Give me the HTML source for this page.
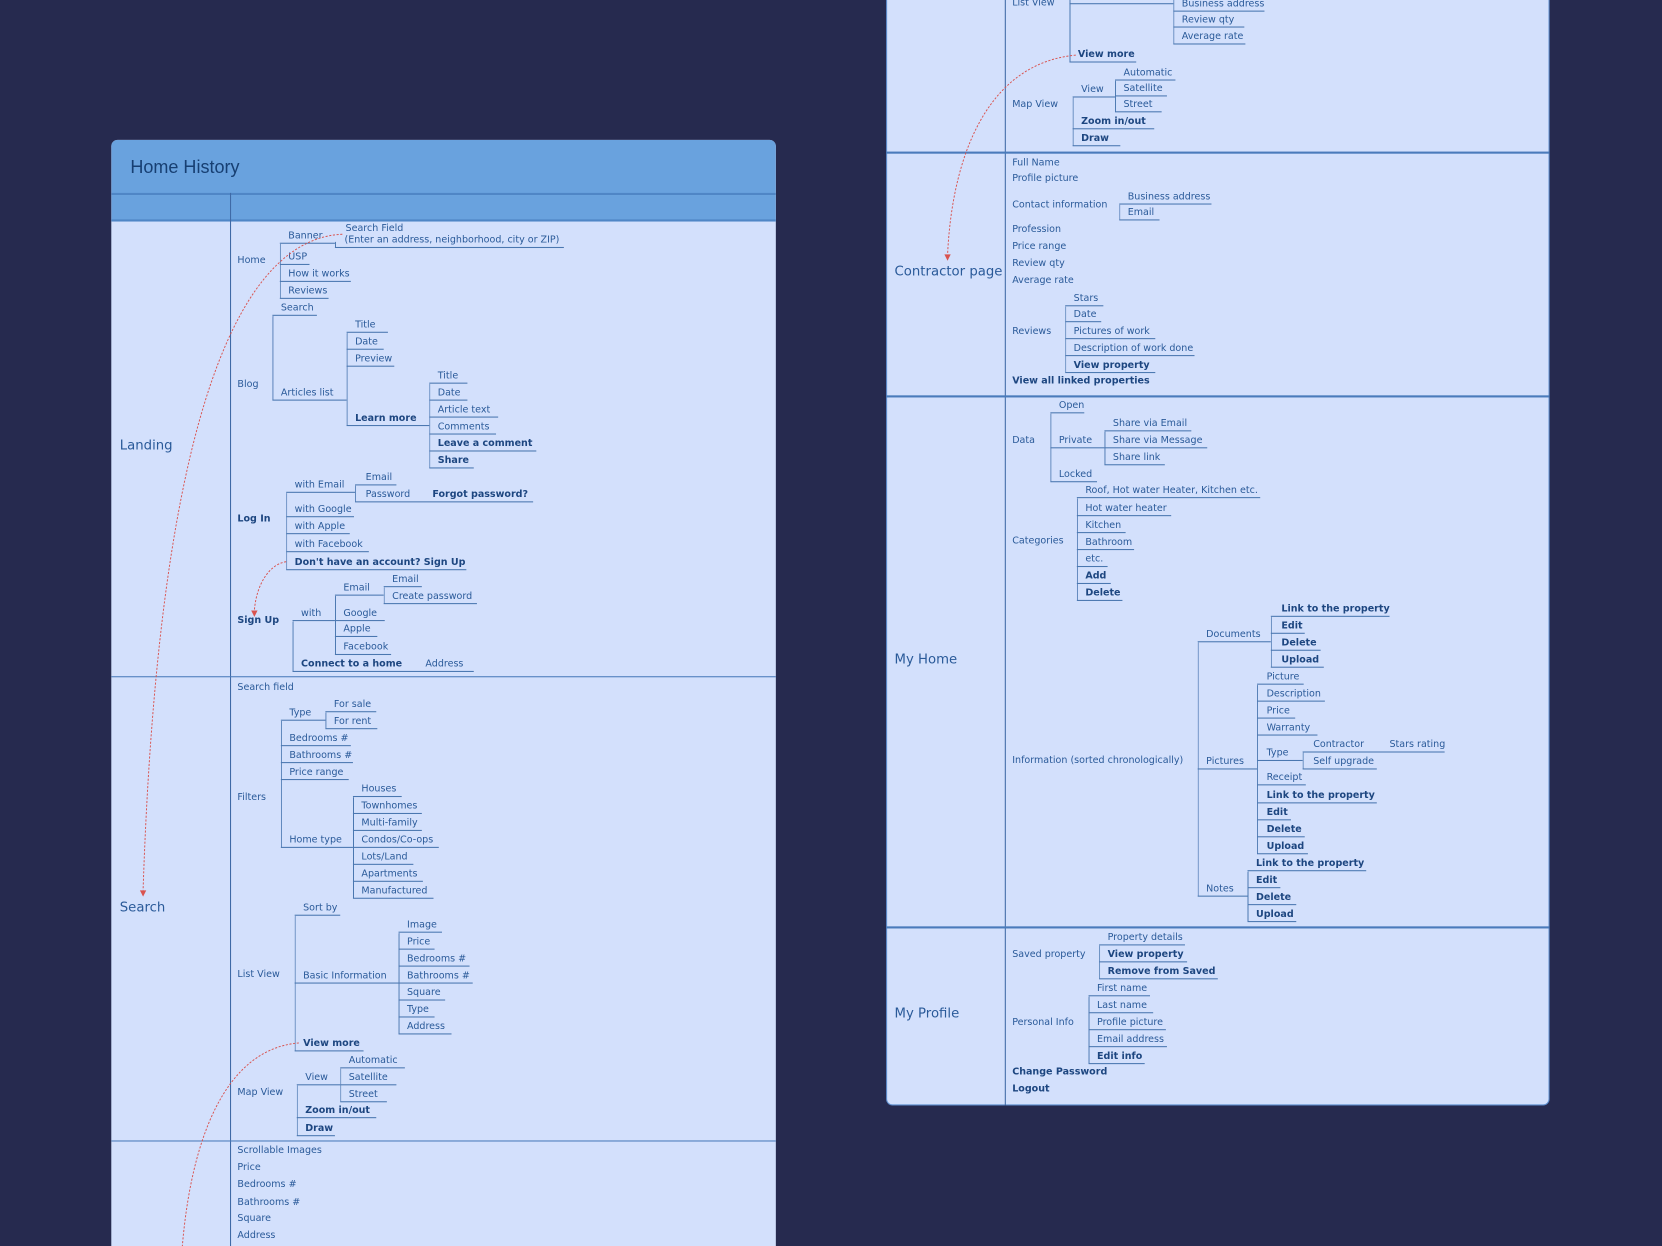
<!DOCTYPE html>
<html><head><meta charset="utf-8">
<style>
html,body{margin:0;padding:0;width:1662px;height:1246px;overflow:hidden;background:#262a4f;}
#w{position:absolute;left:0;top:0;width:1568px;height:1176px;overflow:hidden;transform:scale(1.0599);transform-origin:0 0;font-family:"DejaVu Sans","Liberation Sans",sans-serif;font-size:9px;color:#2a5a99;}
.p{position:absolute;background:#d3e0fc;overflow:hidden;}
.u,.t{position:absolute;white-space:nowrap;line-height:12px;}
.u{height:13px;border-bottom:1px solid #4a77b0;padding-left:8px;box-sizing:border-box;}
.t{height:13px;}
.k{font-weight:bold;color:#1d4680;}
.b{position:absolute;border-left:1px solid #4a77b0;border-radius:3px 0 0 3px;}
.L{position:absolute;font-size:12.5px;color:#2a5a99;white-space:nowrap;}
.hl{position:absolute;height:1px;background:#4a7bbb;}
.vl{position:absolute;width:1px;background:#3f6aa6;}
</style></head><body><div id="w">

<!-- LEFT PANEL -->
<div class="p" style="left:105px;top:132px;width:627px;height:1044px;border-radius:6px 6px 0 0;">
 <div style="position:absolute;left:0;top:0;width:627px;height:50px;background:#69a2de;border-bottom:2px solid #4f86c6;"></div>
 <div style="position:absolute;left:18px;top:16px;font-family:'Liberation Sans',sans-serif;font-size:17px;color:#173f72;">Home History</div>
 <div style="position:absolute;left:0;top:52px;width:627px;height:23px;background:#69a2de;border-bottom:2px solid #4f86c6;"></div>
</div>
<div class="vl" style="left:217px;top:182px;height:994px;"></div>
<div class="hl" style="left:105px;top:638px;width:627px;"></div>
<div class="hl" style="left:105px;top:1076px;width:627px;"></div>

<div class="L" style="left:113px;top:412px;">Landing</div>
<div class="L" style="left:113px;top:848px;">Search</div>

<!-- Home -->
<div class="t" style="left:224px;top:240px;">Home</div>
<div class="b" style="left:264px;top:230px;height:52px;"></div>
<div class="u" style="left:264px;top:217px;width:52px;">Banner</div>
<div class="b" style="left:316px;top:228px;height:6px;"></div>
<div class="t" style="left:326px;top:210px;">Search Field</div>
<div class="u" style="left:316px;top:221px;width:216px;padding-left:9px;">(Enter an address, neighborhood, city or ZIP)</div>
<div class="u" style="left:264px;top:237px;width:28px;">USP</div>
<div class="u" style="left:264px;top:253px;width:67px;">How it works</div>
<div class="u" style="left:264px;top:269px;width:46px;">Reviews</div>
<!-- Blog -->
<div class="t" style="left:224px;top:357px;">Blog</div>
<div class="b" style="left:257px;top:298px;height:80px;"></div>
<div class="u" style="left:257px;top:285px;width:42px;">Search</div>
<div class="u" style="left:257px;top:365px;width:70px;">Articles list</div>
<div class="b" style="left:327px;top:314px;height:88px;"></div>
<div class="u" style="left:327px;top:301px;width:39px;">Title</div>
<div class="u" style="left:327px;top:317px;width:35px;">Date</div>
<div class="u" style="left:327px;top:333px;width:45px;">Preview</div>
<div class="u k" style="left:327px;top:389px;width:78px;">Learn more</div>
<div class="b" style="left:405px;top:362px;height:80px;"></div>
<div class="u" style="left:405px;top:349px;width:36px;">Title</div>
<div class="u" style="left:405px;top:365px;width:36px;">Date</div>
<div class="u" style="left:405px;top:381px;width:65px;">Article text</div>
<div class="u" style="left:405px;top:397px;width:63px;">Comments</div>
<div class="u k" style="left:405px;top:413px;width:101px;">Leave a comment</div>
<div class="u k" style="left:405px;top:429px;width:42px;">Share</div>
<!-- Log In -->
<div class="t k" style="left:224px;top:484px;">Log In</div>
<div class="b" style="left:270px;top:465px;height:73px;"></div>
<div class="u" style="left:270px;top:452px;width:65px;">with Email</div>
<div class="b" style="left:335px;top:458px;height:16px;"></div>
<div class="u" style="left:335px;top:445px;width:39px;padding-left:10px;">Email</div>
<div class="u" style="left:335px;top:461px;width:168px;padding-left:10px;">Password <span class="k" style="margin-left:18px;">Forgot password?</span></div>
<div class="u" style="left:270px;top:475px;width:64px;">with Google</div>
<div class="u" style="left:270px;top:491px;width:60px;">with Apple</div>
<div class="u" style="left:270px;top:508px;width:78px;">with Facebook</div>
<div class="u k" style="left:270px;top:525px;width:170px;">Don't have an account? Sign Up</div>
<!-- Sign Up -->
<div class="t k" style="left:224px;top:580px;">Sign Up</div>
<div class="b" style="left:276px;top:586px;height:48px;"></div>
<div class="u" style="left:276px;top:573px;width:40px;">with</div>
<div class="b" style="left:316px;top:562px;height:56px;"></div>
<div class="u" style="left:316px;top:549px;width:46px;">Email</div>
<div class="b" style="left:362px;top:554px;height:16px;"></div>
<div class="u" style="left:362px;top:541px;width:36px;">Email</div>
<div class="u" style="left:362px;top:557px;width:88px;">Create password</div>
<div class="u" style="left:316px;top:573px;width:47px;">Google</div>
<div class="u" style="left:316px;top:588px;width:40px;">Apple</div>
<div class="u" style="left:316px;top:605px;width:53px;">Facebook</div>
<div class="u" style="left:276px;top:621px;width:171px;"><span class="k">Connect to a home</span><span style="margin-left:22px;">Address</span></div>

<!-- Search -->
<div class="t" style="left:224px;top:643px;">Search field</div>
<div class="t" style="left:224px;top:747px;">Filters</div>
<div class="b" style="left:265px;top:680px;height:120px;"></div>
<div class="u" style="left:265px;top:667px;width:42px;">Type</div>
<div class="b" style="left:307px;top:672px;height:16px;"></div>
<div class="u" style="left:307px;top:659px;width:48px;">For sale</div>
<div class="u" style="left:307px;top:675px;width:49px;">For rent</div>
<div class="u" style="left:265px;top:691px;width:66px;">Bedrooms #</div>
<div class="u" style="left:265px;top:707px;width:68px;">Bathrooms #</div>
<div class="u" style="left:265px;top:723px;width:64px;">Price range</div>
<div class="u" style="left:265px;top:787px;width:68px;">Home type</div>
<div class="b" style="left:333px;top:752px;height:96px;"></div>
<div class="u" style="left:333px;top:739px;width:46px;">Houses</div>
<div class="u" style="left:333px;top:755px;width:65px;">Townhomes</div>
<div class="u" style="left:333px;top:771px;width:65px;">Multi-family</div>
<div class="u" style="left:333px;top:787px;width:81px;">Condos/Co-ops</div>
<div class="u" style="left:333px;top:803px;width:57px;">Lots/Land</div>
<div class="u" style="left:333px;top:819px;width:66px;">Apartments</div>
<div class="u" style="left:333px;top:835px;width:76px;">Manufactured</div>
<div class="t" style="left:224px;top:914px;">List View</div>
<div class="b" style="left:278px;top:864px;height:128px;"></div>
<div class="u" style="left:278px;top:851px;width:43px;">Sort by</div>
<div class="u" style="left:278px;top:915px;width:98px;">Basic Information</div>
<div class="b" style="left:376px;top:880px;height:96px;"></div>
<div class="u" style="left:376px;top:867px;width:41px;">Image</div>
<div class="u" style="left:376px;top:883px;width:34px;">Price</div>
<div class="u" style="left:376px;top:899px;width:67px;">Bedrooms #</div>
<div class="u" style="left:376px;top:915px;width:70px;">Bathrooms #</div>
<div class="u" style="left:376px;top:931px;width:44px;">Square</div>
<div class="u" style="left:376px;top:947px;width:34px;">Type</div>
<div class="u" style="left:376px;top:963px;width:50px;">Address</div>
<div class="u k" style="left:278px;top:979px;width:65px;">View more</div>
<div class="t" style="left:224px;top:1025px;">Map View</div>
<div class="b" style="left:280px;top:1024px;height:48px;"></div>
<div class="u" style="left:280px;top:1011px;width:41px;">View</div>
<div class="b" style="left:321px;top:1008px;height:32px;"></div>
<div class="u" style="left:321px;top:995px;width:61px;">Automatic</div>
<div class="u" style="left:321px;top:1011px;width:53px;">Satellite</div>
<div class="u" style="left:321px;top:1027px;width:44px;">Street</div>
<div class="u k" style="left:280px;top:1042px;width:75px;">Zoom in/out</div>
<div class="u k" style="left:280px;top:1059px;width:36px;">Draw</div>
<!-- third -->
<div class="t" style="left:224px;top:1080px;">Scrollable Images</div>
<div class="t" style="left:224px;top:1096px;">Price</div>
<div class="t" style="left:224px;top:1112px;">Bedrooms #</div>
<div class="t" style="left:224px;top:1129px;">Bathrooms #</div>
<div class="t" style="left:224px;top:1144px;">Square</div>
<div class="t" style="left:224px;top:1160px;">Address</div>

<!-- RIGHT PANEL -->
<div class="p" style="left:836px;top:-10px;width:626px;height:1053px;border-radius:0 0 6px 6px;border:1px solid #5f8fcf;box-sizing:border-box;"></div>
<div class="vl" style="left:948px;top:0;height:1043px;"></div>
<div class="hl" style="left:836px;top:143px;width:626px;height:2px;"></div>
<div class="hl" style="left:836px;top:373px;width:626px;height:2px;"></div>
<div class="hl" style="left:836px;top:874px;width:626px;height:2px;"></div>

<div class="L" style="left:844px;top:248px;">Contractor page</div>
<div class="L" style="left:844px;top:614px;">My Home</div>
<div class="L" style="left:844px;top:948px;">My Profile</div>

<div class="t" style="left:955px;top:-3px;">List View</div>
<div class="b" style="left:1009px;top:-10px;height:69px;"></div>
<div class="hl" style="left:1009px;top:3px;width:98px;background:#4a77b0;"></div>
<div class="b" style="left:1107px;top:-10px;height:52px;"></div>
<div class="u" style="left:1107px;top:-2px;width:86px;">Business address</div>
<div class="u" style="left:1107px;top:13px;width:67px;">Review qty</div>
<div class="u" style="left:1107px;top:29px;width:68px;">Average rate</div>
<div class="u k" style="left:1009px;top:46px;width:63px;">View more</div>
<div class="t" style="left:955px;top:93px;">Map View</div>
<div class="b" style="left:1012px;top:92px;height:46px;"></div>
<div class="u" style="left:1012px;top:79px;width:40px;">View</div>
<div class="b" style="left:1052px;top:76px;height:30px;"></div>
<div class="u" style="left:1052px;top:63px;width:57px;">Automatic</div>
<div class="u" style="left:1052px;top:78px;width:49px;">Satellite</div>
<div class="u" style="left:1052px;top:93px;width:44px;">Street</div>
<div class="u k" style="left:1012px;top:109px;width:77px;">Zoom in/out</div>
<div class="u k" style="left:1012px;top:125px;width:45px;">Draw</div>

<div class="t" style="left:955px;top:148px;">Full Name</div>
<div class="t" style="left:955px;top:163px;">Profile picture</div>
<div class="t" style="left:955px;top:188px;">Contact information</div>
<div class="b" style="left:1056px;top:193px;height:15px;"></div>
<div class="u" style="left:1056px;top:180px;width:87px;">Business address</div>
<div class="u" style="left:1056px;top:195px;width:38px;">Email</div>
<div class="t" style="left:955px;top:211px;">Profession</div>
<div class="t" style="left:955px;top:227px;">Price range</div>
<div class="t" style="left:955px;top:243px;">Review qty</div>
<div class="t" style="left:955px;top:259px;">Average rate</div>
<div class="t" style="left:955px;top:307px;">Reviews</div>
<div class="b" style="left:1005px;top:289px;height:63px;"></div>
<div class="u" style="left:1005px;top:276px;width:36px;">Stars</div>
<div class="u" style="left:1005px;top:291px;width:34px;">Date</div>
<div class="u" style="left:1005px;top:307px;width:85px;">Pictures of work</div>
<div class="u" style="left:1005px;top:323px;width:122px;">Description of work done</div>
<div class="u k" style="left:1005px;top:339px;width:85px;">View property</div>
<div class="t k" style="left:955px;top:354px;">View all linked properties</div>

<div class="t" style="left:955px;top:410px;">Data</div>
<div class="b" style="left:991px;top:390px;height:65px;"></div>
<div class="u" style="left:991px;top:377px;width:32px;">Open</div>
<div class="u" style="left:991px;top:410px;width:51px;">Private</div>
<div class="b" style="left:1042px;top:407px;height:32px;"></div>
<div class="u" style="left:1042px;top:394px;width:82px;">Share via Email</div>
<div class="u" style="left:1042px;top:410px;width:97px;">Share via Message</div>
<div class="u" style="left:1042px;top:426px;width:57px;">Share link</div>
<div class="u" style="left:991px;top:442px;width:44px;">Locked</div>
<div class="t" style="left:955px;top:505px;">Categories</div>
<div class="b" style="left:1016px;top:470px;height:97px;"></div>
<div class="u" style="left:1016px;top:457px;width:173px;">Roof, Hot water Heater, Kitchen etc.</div>
<div class="u" style="left:1016px;top:474px;width:89px;">Hot water heater</div>
<div class="u" style="left:1016px;top:490px;width:46px;">Kitchen</div>
<div class="u" style="left:1016px;top:506px;width:54px;">Bathroom</div>
<div class="u" style="left:1016px;top:522px;width:29px;">etc.</div>
<div class="u k" style="left:1016px;top:538px;width:32px;">Add</div>
<div class="u k" style="left:1016px;top:554px;width:43px;">Delete</div>

<div class="t" style="left:955px;top:712px;">Information (sorted chronologically)</div>
<div class="b" style="left:1130px;top:606px;height:240px;"></div>
<div class="u" style="left:1130px;top:593px;width:69px;">Documents</div>
<div class="b" style="left:1199px;top:582px;height:48px;"></div>
<div class="u k" style="left:1199px;top:569px;width:112px;padding-left:10px;">Link to the property</div>
<div class="u k" style="left:1199px;top:585px;width:32px;padding-left:10px;">Edit</div>
<div class="u k" style="left:1199px;top:601px;width:47px;padding-left:10px;">Delete</div>
<div class="u k" style="left:1199px;top:617px;width:50px;padding-left:10px;">Upload</div>
<div class="u" style="left:1130px;top:713px;width:56px;">Pictures</div>
<div class="b" style="left:1186px;top:646px;height:160px;"></div>
<div class="u" style="left:1186px;top:633px;width:44px;padding-left:9px;">Picture</div>
<div class="u" style="left:1186px;top:649px;width:64px;padding-left:9px;">Description</div>
<div class="u" style="left:1186px;top:665px;width:36px;padding-left:9px;">Price</div>
<div class="u" style="left:1186px;top:681px;width:57px;padding-left:9px;">Warranty</div>
<div class="u" style="left:1186px;top:705px;width:43px;padding-left:9px;">Type</div>
<div class="b" style="left:1229px;top:710px;height:16px;"></div>
<div class="u" style="left:1229px;top:697px;width:134px;padding-left:10px;">Contractor<span style="margin-left:24px;">Stars rating</span></div>
<div class="u" style="left:1229px;top:713px;width:70px;padding-left:10px;">Self upgrade</div>
<div class="u" style="left:1186px;top:728px;width:46px;padding-left:9px;">Receipt</div>
<div class="u k" style="left:1186px;top:745px;width:113px;padding-left:9px;">Link to the property</div>
<div class="u k" style="left:1186px;top:761px;width:32px;padding-left:9px;">Edit</div>
<div class="u k" style="left:1186px;top:777px;width:45px;padding-left:9px;">Delete</div>
<div class="u k" style="left:1186px;top:793px;width:48px;padding-left:9px;">Upload</div>
<div class="u" style="left:1130px;top:833px;width:47px;">Notes</div>
<div class="b" style="left:1177px;top:822px;height:48px;"></div>
<div class="u k" style="left:1177px;top:809px;width:112px;">Link to the property</div>
<div class="u k" style="left:1177px;top:825px;width:31px;">Edit</div>
<div class="u k" style="left:1177px;top:841px;width:46px;">Delete</div>
<div class="u k" style="left:1177px;top:857px;width:46px;">Upload</div>

<div class="t" style="left:955px;top:895px;">Saved property</div>
<div class="b" style="left:1037px;top:892px;height:32px;"></div>
<div class="u" style="left:1037px;top:879px;width:81px;">Property details</div>
<div class="u k" style="left:1037px;top:895px;width:83px;">View property</div>
<div class="u k" style="left:1037px;top:911px;width:112px;">Remove from Saved</div>
<div class="t" style="left:955px;top:959px;">Personal Info</div>
<div class="b" style="left:1027px;top:940px;height:64px;"></div>
<div class="u" style="left:1027px;top:927px;width:58px;">First name</div>
<div class="u" style="left:1027px;top:943px;width:61px;">Last name</div>
<div class="u" style="left:1027px;top:959px;width:73px;">Profile picture</div>
<div class="u" style="left:1027px;top:975px;width:74px;">Email address</div>
<div class="u k" style="left:1027px;top:991px;width:53px;">Edit info</div>
<div class="t k" style="left:955px;top:1006px;">Change Password</div>
<div class="t k" style="left:955px;top:1022px;">Logout</div>

<svg style="position:absolute;left:0;top:0;" width="1568" height="1176">
 <g fill="none" stroke="#d9534f" stroke-width="0.9" stroke-dasharray="2,1.5">
  <path d="M323,221 C230,225 150,380 135,840"/>
  <path d="M270,530 C255,532 242,550 240,576"/>
  <path d="M282,984 C210,990 180,1080 172,1176"/>
  <path d="M1015,52 C930,60 898,150 894,241"/>
 </g>
 <g fill="#d9534f">
  <path d="M132,840 L138,840 L135,846Z"/>
  <path d="M237,576 L243,576 L240,582Z"/>
  <path d="M891,240 L897,240 L894,246Z"/>
 </g>
</svg>
</div></body></html>
